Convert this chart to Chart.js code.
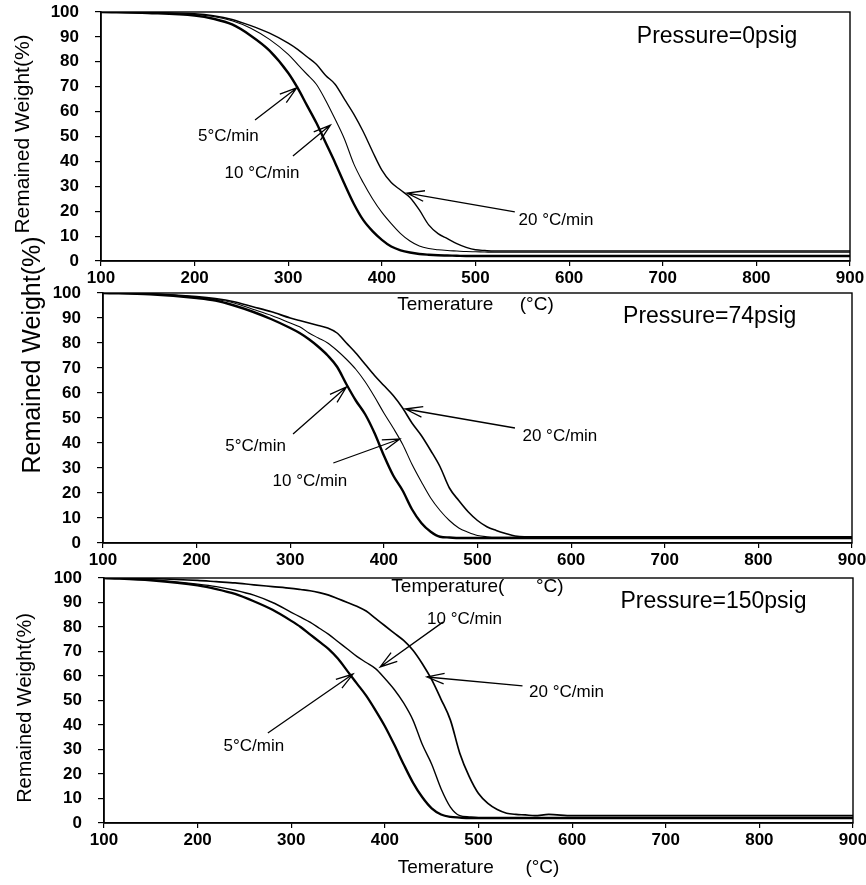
<!DOCTYPE html>
<html>
<head>
<meta charset="utf-8">
<script src="https://cdn.jsdelivr.net/npm/chart.js@4.4.0/dist/chart.umd.min.js"></script>
<style>
  body { margin: 0; background: #fff; }
  #wrap { position: relative; width: 866px; height: 885px; }
  #wrap canvas { position: absolute; left: 0; top: 0; }
</style>
</head>
<body>
<div id="wrap">
  <canvas id="g1" width="866" height="885"></canvas>
  <canvas id="g2" width="866" height="885"></canvas>
  <canvas id="g3" width="866" height="885"></canvas>
</div>
<script>
// temperature grid (°C) shared by every curve
const temps = [100,150,200,220,240,260,280,300,310,320,330,340,350,360,370,380,390,400,410,420,430,440,450,460,470,480,490,500,510,520,530,540,550,560,575,600,700,800,900];

// remained weight (%) - pressure 0 psig
const p0_5  = [100,99.6,98.6,97.3,95,90.5,84.5,75.5,69.5,62.5,55.5,47.5,39.5,31,23,16.5,12,8.5,5.8,4.3,3.4,2.8,2.5,2.3,2.2,2.1,2,2,2,2,2,2,2,2,2,2,2,2,2];
const p0_10 = [100,99.7,99,98.2,96.5,93.5,89,83,79,75,71,64.5,57,49,39,31.5,25,19.5,15,11,8,6,5,4.5,4.2,4,3.8,3.7,3.6,3.5,3.5,3.5,3.5,3.5,3.5,3.5,3.5,3.5,3.5];
const p0_20 = [100,99.8,99.3,98.5,97,94.5,91.5,87.5,85,82,79,74.5,71,65,59,52,44,36.5,31.5,28.5,25.5,20.5,14.5,11,9,7,5.5,4.5,4.2,4,4,4,4,4,4,4,4,4,4];

// pressure 74 psig
const p74_5  = [100,99.5,98,97,95,92.5,89.5,86,84,81.5,78.5,75,70.5,63.5,57,51.5,44,35,27,21,13.5,8,4.5,2.5,2.2,2,2,2,2,2,2,2,2,2,2,2,2,2,2];
const p74_10 = [100,99.6,98.4,97.5,96,93.5,91,88,86.5,84,82,80,77,73.5,69.5,64.5,58.5,52,46,39.5,31.5,24.5,18,13,9,6,4.3,3,2.5,2.3,2.3,2.3,2.3,2.3,2.3,2.3,2.3,2.3,2.3];
const p74_20 = [100,99.7,98.6,97.8,96.5,94.5,92.5,90,89,88,87,86,84,80,76,71.5,67,63,59,54,48,43,37,30.5,22,17,12.5,9,6.5,5,3.8,2.8,2.5,2.5,2.5,2.5,2.5,2.5,2.5];

// pressure 150 psig
const p150_5  = [100,99,97,95.5,93.5,90.5,87,82.5,80,77,74,71,67,62,57,52,46,39.5,32,24,16.5,10.5,6,3.5,2.5,2.2,2,2,2,2,2,2,2,2,2,2,2,2,2];
const p150_10 = [100,99.3,97.5,96.5,95,93,90,86,84,82,79.5,77,74,71,68,65.5,63,59,54.5,49,42,32,24,14,6.5,3,2.5,2.3,2.3,2.3,2.3,2.3,2.3,2.3,2.3,2.3,2.3,2.3,2.3];
const p150_20 = [100,99.7,99,98.5,98,97.2,96.5,95.8,95.3,94.8,94,93,91.5,90,88.5,86.5,83.5,80.5,77.5,74.5,70.5,65,58.5,50.5,42,28.5,19,12,8,5.5,4,3.5,3.3,3,3.5,3,3,3,3];

const rates = ['5°C/min', '10 °C/min', '20 °C/min'];
const xTicks = { min: 100, max: 900, step: 100 };
const yTicks = { min: 0, max: 100, step: 10 };

const FONT = '"Liberation Sans", Arial, Helvetica, sans-serif';

const panels = [
  {
    id: 'g1', w: [p0_5, p0_10, p0_20], lw: [2.4, 1.1, 1.4],
    area: { left: 101, right: 850, top: 12, bottom: 261 },
    xTitle: 'Temerature     (°C)', xPad: 4.6,
    yTitle: { x: 23, y: 134, size: 21 },
    pressure: ['Pressure=0psig', 758, 90],
    labels: [[rates[0], 236, 50], [rates[1], 272, 35.3], [rates[2], 586, 16.5]],
    arrows: [[264.5, 56.6, 309, 69.5], [305, 42.2, 345, 54.6], [542, 19.7, 427, 27.3]]
  },
  {
    id: 'g2', w: [p74_5, p74_10, p74_20], lw: [2.4, 1.1, 1.6],
    area: { left: 103, right: 852, top: 293, bottom: 543 },
    xTitle: 'Temperature(      °C)', xPad: 4.6,
    yTitle: { x: 33, y: 355, size: 25 },
    pressure: ['Pressure=74psig', 748, 90.4],
    labels: [[rates[0], 263, 38.8], [rates[1], 321, 24.8], [rates[2], 588, 42.8]],
    arrows: [[303, 43.6, 360, 62.4], [346, 32, 417, 41.6], [540, 46, 423, 53.6]]
  },
  {
    id: 'g3', w: [p150_5, p150_10, p150_20], lw: [2.3, 1.4, 1.7],
    area: { left: 104, right: 853, top: 578, bottom: 823 },
    xTitle: 'Temerature      (°C)', xPad: 3.6,
    yTitle: { x: 25, y: 708, size: 20 },
    pressure: ['Pressure=150psig', 751, 90.2],
    labels: [[rates[0], 260, 31.4], [rates[1], 485, 83.3], [rates[2], 594, 53.5]],
    arrows: [[275, 36.7, 366, 60.8], [462, 82, 395, 63.7], [547, 56, 445, 59.6]]
  }
];

function arrow(ctx, x0, y0, x1, y1) {
  const ang = Math.atan2(y1 - y0, x1 - x0), len = 18, spread = 0.3;
  ctx.beginPath();
  ctx.moveTo(x0, y0);
  ctx.lineTo(x1, y1);
  ctx.moveTo(x1 - len * Math.cos(ang - spread), y1 - len * Math.sin(ang - spread));
  ctx.lineTo(x1, y1);
  ctx.lineTo(x1 - len * Math.cos(ang + spread), y1 - len * Math.sin(ang + spread));
  ctx.stroke();
}

function makePanel(p) {
  const notes = {
    id: 'notes',
    afterDraw(chart) {
      const { ctx, chartArea: a, scales: { x, y } } = chart;
      ctx.save();
      ctx.strokeStyle = '#000';
      ctx.fillStyle = '#000';
      ctx.lineWidth = 1.4;
      ctx.strokeRect(a.left, a.top, a.right - a.left, a.bottom - a.top);

      ctx.textAlign = 'center';
      ctx.textBaseline = 'middle';
      ctx.font = '17px ' + FONT;
      p.labels.forEach(l => ctx.fillText(l[0], x.getPixelForValue(l[1]), y.getPixelForValue(l[2])));

      ctx.lineWidth = 1.3;
      p.arrows.forEach(r => arrow(ctx,
        x.getPixelForValue(r[0]), y.getPixelForValue(r[1]),
        x.getPixelForValue(r[2]), y.getPixelForValue(r[3])));

      ctx.font = '23px ' + FONT;
      ctx.fillText(p.pressure[0], x.getPixelForValue(p.pressure[1]), y.getPixelForValue(p.pressure[2]));

      ctx.translate(p.yTitle.x, p.yTitle.y);
      ctx.rotate(-Math.PI / 2);
      ctx.font = p.yTitle.size + 'px ' + FONT;
      ctx.fillText('Remained Weight(%)', 0, 0);
      ctx.restore();
    }
  };

  const ctx = document.getElementById(p.id).getContext('2d');
  return new Chart(ctx, {
    type: 'line',
    data: {
      datasets: p.w.map((vals, i) => ({
        label: rates[i],
        data: temps.map((t, k) => ({ x: t, y: vals[k] })),
        borderColor: '#000',
        borderWidth: p.lw[i],
        pointRadius: 0,
        fill: false,
        cubicInterpolationMode: 'monotone'
      }))
    },
    options: {
      responsive: false,
      animation: false,
      events: [],
      layout: { padding: { left: 0, top: p.area.top, right: 866 - p.area.right, bottom: 885 - p.area.bottom - 60 } },
      plugins: { legend: { display: false }, tooltip: { enabled: false } },
      scales: {
        x: {
          type: 'linear',
          min: xTicks.min, max: xTicks.max,
          afterFit: s => { s.height = 60; s.paddingLeft = 0; s.paddingRight = 0; },
          border: { display: true, color: '#000', width: 1.5 },
          grid: { drawOnChartArea: false, drawTicks: true, tickLength: 5, color: '#000', lineWidth: 1.2 },
          ticks: { stepSize: xTicks.step, color: '#000', padding: 2, maxRotation: 0, font: { family: FONT, size: 17, weight: 'bold' } },
          title: { display: true, text: p.xTitle, color: '#000', padding: { top: 0, bottom: p.xPad }, font: { family: FONT, size: 19 } }
        },
        y: {
          min: yTicks.min, max: yTicks.max,
          afterFit: s => { s.width = p.area.left; s.paddingTop = 0; s.paddingBottom = 0; },
          border: { display: true, color: '#000', width: 1.5 },
          grid: { drawOnChartArea: false, drawTicks: true, tickLength: 6, color: '#000', lineWidth: 1.2 },
          ticks: { stepSize: yTicks.step, color: '#000', padding: 16, font: { family: FONT, size: 17, weight: 'bold' } }
        }
      }
    },
    plugins: [notes]
  });
}

panels.forEach(makePanel);
</script>
</body>
</html>
